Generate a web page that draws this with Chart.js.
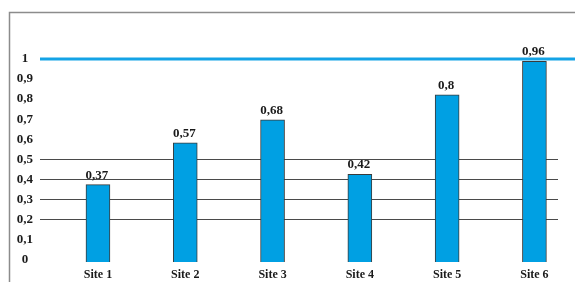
<!DOCTYPE html>
<html>
<head>
<meta charset="utf-8">
<script src="https://cdn.jsdelivr.net/npm/chart.js@4"></script>
<style>
    body { margin: 0; background: #fff; }
    canvas { display: block; }
</style>
</head>
<body>
<canvas id="siteChart" width="575" height="282"></canvas>
<script>
// ===================================
// DATA
// ===================================

const sites = ['Site 1', 'Site 2', 'Site 3', 'Site 4', 'Site 5', 'Site 6'];
const values = [0.37, 0.57, 0.68, 0.42, 0.8, 0.96];
const yTicks = [0, 0.1, 0.2, 0.3, 0.4, 0.5, 0.6, 0.7, 0.8, 0.9, 1];
const gridValues = [0.2, 0.3, 0.4, 0.5];
const targetValue = 1;

const BAR_BLUE = '#00a0e3';
const LINE_BLUE = '#14a3e6';
const SERIF = '"Liberation Serif", "DejaVu Serif", serif';

const fmt = v => String(v).replace('.', ',');

// ===================================
// PLUGINS
// ===================================

// white page + grey frame round the figure
const framePlugin = {
    id: 'frame',
    beforeDraw(chart) {
        const ctx = chart.ctx;
        ctx.save();
        ctx.fillStyle = '#fff';
        ctx.fillRect(0, 0, chart.width, chart.height);
        ctx.strokeStyle = '#8c8c8c';
        ctx.lineWidth = 1.5;
        ctx.strokeRect(9.5, 12.5, chart.width + 20, chart.height + 20);
        ctx.restore();
    }
};

// blue target line, runs to the right edge
const targetPlugin = {
    id: 'target',
    beforeDatasetsDraw(chart) {
        const { ctx, chartArea, scales } = chart;
        const y = scales.y.getPixelForValue(targetValue);
        ctx.save();
        ctx.strokeStyle = LINE_BLUE;
        ctx.lineWidth = 3;
        ctx.beginPath();
        ctx.moveTo(chartArea.left, y);
        ctx.lineTo(chart.width, y);
        ctx.stroke();
        ctx.restore();
    }
};

// value labels above the bars
const valueLabels = {
    id: 'valueLabels',
    afterDatasetsDraw(chart) {
        const ctx = chart.ctx;
        const meta = chart.getDatasetMeta(0);
        ctx.save();
        ctx.font = 'bold 13px ' + SERIF;
        ctx.fillStyle = '#1a1a1a';
        ctx.textAlign = 'center';
        ctx.textBaseline = 'bottom';
        meta.data.forEach((bar, i) => {
            ctx.fillText(fmt(values[i]), bar.x - 1, bar.y - 3);
        });
        ctx.restore();
    }
};

// ===================================
// CHART
// ===================================

new Chart(document.getElementById('siteChart'), {
    type: 'bar',
    data: {
        datasets: [{
            data: sites.map((s, i) => ({ x: i, y: values[i] })),
            yAxisID: 'yBar',
            backgroundColor: BAR_BLUE,
            borderColor: '#3a3a3a',
            borderWidth: 1,
            barThickness: 24
        }]
    },
    options: {
        responsive: false,
        animation: false,
        layout: { padding: { left: 0, right: 17, top: 30, bottom: 0 } },
        plugins: {
            legend: { display: false },
            tooltip: { enabled: false }
        },
        scales: {
            x: {
                type: 'linear',
                offset: false,
                min: -0.664,
                max: 5.27,
                afterBuildTicks: scale => {
                    scale.ticks = sites.map((s, i) => ({ value: i }));
                },
                afterFit: scale => { scale.height = 20; },
                ticks: {
                    callback: v => sites[v],
                    font: { family: SERIF, size: 12, weight: 'bold' },
                    color: '#1a1a1a',
                    padding: 6,
                    maxRotation: 0
                },
                grid: { display: false, drawTicks: false },
                border: { display: false }
            },
            y: {
                position: 'left',
                min: -0.0125,
                max: 1.1446,
                afterBuildTicks: scale => {
                    scale.ticks = yTicks.map(v => ({ value: v }));
                },
                afterFit: scale => { scale.width = 40; },
                ticks: {
                    callback: v => fmt(v),
                    font: { family: SERIF, size: 13, weight: 'bold' },
                    color: '#1a1a1a',
                    crossAlign: 'center',
                    padding: 7
                },
                grid: {
                    drawTicks: false,
                    color: c => gridValues.includes(c.tick && c.tick.value) ? '#4a4a4a' : 'rgba(0,0,0,0)',
                    lineWidth: 1
                },
                border: { display: false }
            },
            yBar: {
                display: false,
                min: 0,
                max: 1.11
            }
        }
    },
    plugins: [framePlugin, targetPlugin, valueLabels]
});
</script>
</body>
</html>
